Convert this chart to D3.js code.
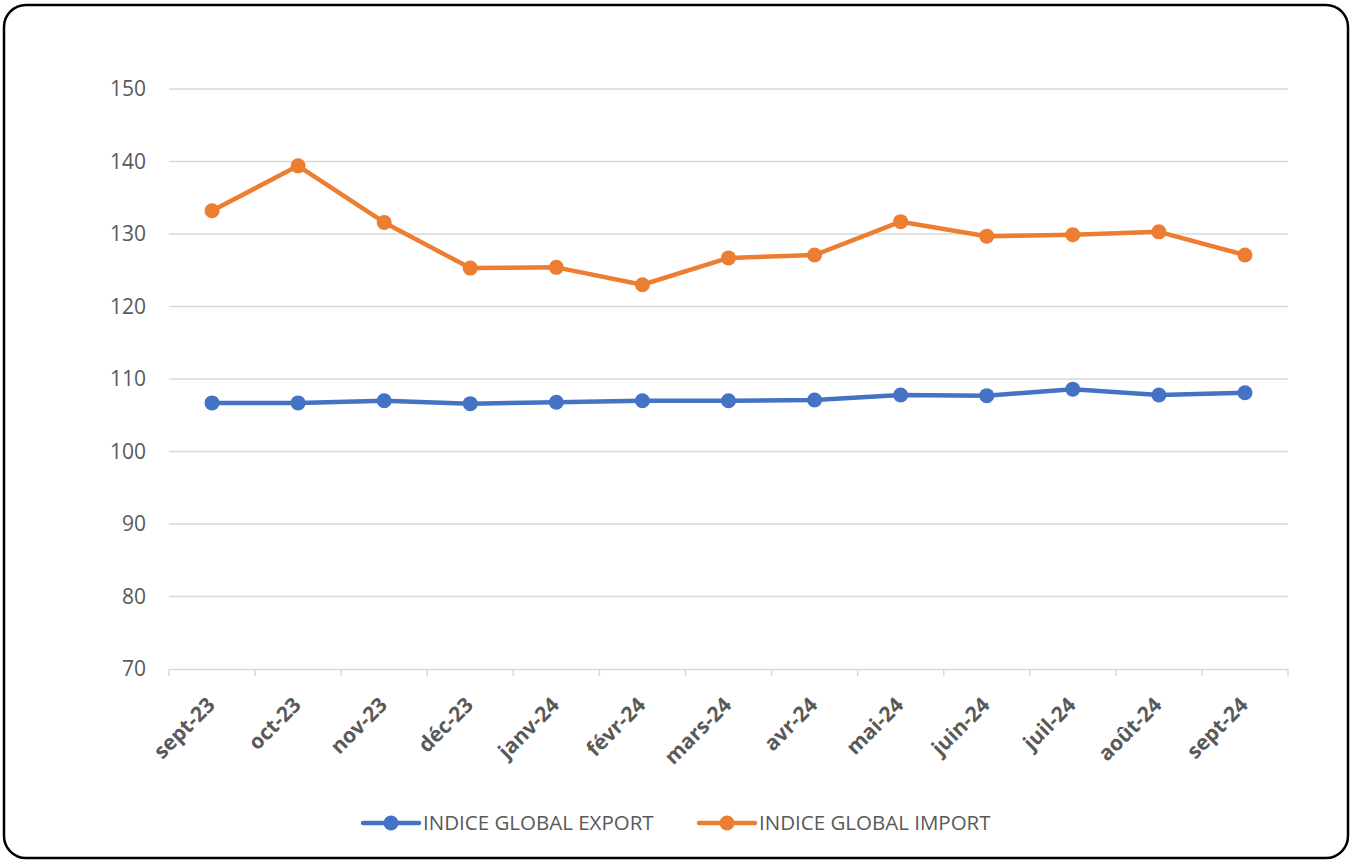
<!DOCTYPE html>
<html>
<head>
<meta charset="utf-8">
<script src="https://cdn.jsdelivr.net/npm/d3@7"></script>
<style>
  body { margin: 0; background: #fff; }
  text { font-family: "Open Sans", sans-serif; }
</style>
</head>
<body>
<div id="chart"></div>
<script>
// data
let months = ["sept-23", "oct-23", "nov-23", "déc-23", "janv-24", "févr-24", "mars-24",
  "avr-24", "mai-24", "juin-24", "juil-24", "août-24", "sept-24"];
let exportIdx = [106.7, 106.7, 107.0, 106.6, 106.8, 107.0, 107.0, 107.1, 107.8, 107.7, 108.6, 107.8, 108.1];
let importIdx = [133.2, 139.4, 131.6, 125.3, 125.4, 123.0, 126.7, 127.1, 131.7, 129.7, 129.9, 130.3, 127.1];
let yTicks = [70, 80, 90, 100, 110, 120, 130, 140, 150];
let seriesNames = ["INDICE GLOBAL EXPORT", "INDICE GLOBAL IMPORT"];
let colors = ["#4472C4", "#ED7D31"];

let width = 1354, height = 861;
let plot = { left: 169, right: 1288, top: 89, bottom: 669 };

let svg = d3.select("#chart").append("svg")
  .attr("width", width)
  .attr("height", height);

// frame
svg.append("rect")
  .attr("x", 4).attr("y", 5)
  .attr("width", width - 10).attr("height", height - 8)
  .attr("rx", 22).attr("ry", 22)
  .attr("fill", "#fff")
  .attr("stroke", "#000")
  .attr("stroke-width", 2.5);

let x = d3.scaleBand()
  .domain(months)
  .range([plot.left, plot.right]);

let y = d3.scaleLinear()
  .domain([70, 150])
  .range([plot.bottom, plot.top]);

// gridlines
svg.append("g")
  .selectAll("line")
  .data(yTicks.filter(d => d > 70))
  .enter()
  .append("line")
  .attr("x1", plot.left).attr("x2", plot.right)
  .attr("y1", d => y(d)).attr("y2", d => y(d))
  .attr("stroke", "#d9d9d9")
  .attr("stroke-width", 1.5);

// y axis labels
let yAxis = svg.append("g")
  .attr("transform", `translate(${plot.left},0)`)
  .call(d3.axisLeft(y).tickValues(yTicks).tickSize(0).tickPadding(23));
yAxis.select(".domain").remove();
yAxis.selectAll("text")
  .style("font-size", "21px")
  .style("font-family", "'Open Sans', sans-serif")
  .attr("fill", "#595959");

// x axis
let xAxis = svg.append("g")
  .attr("transform", `translate(0,${plot.bottom})`)
  .call(d3.axisBottom(x).tickSize(0).tickFormat(""));
xAxis.select(".domain")
  .attr("stroke", "#d9d9d9")
  .attr("stroke-width", 1.5);

let bounds = months.map(m => x(m)).concat([plot.right]);
svg.append("g")
  .selectAll("line")
  .data(bounds)
  .enter()
  .append("line")
  .attr("x1", d => d).attr("x2", d => d)
  .attr("y1", plot.bottom).attr("y2", plot.bottom + 7)
  .attr("stroke", "#d9d9d9")
  .attr("stroke-width", 1.5);

svg.append("g")
  .selectAll("text")
  .data(months)
  .enter()
  .append("text")
  .attr("transform", d => `translate(${x(d) + x.bandwidth() / 2 - 1},${plot.bottom + 32}) rotate(-45)`)
  .attr("text-anchor", "end")
  .attr("dy", "0.35em")
  .style("font-size", "21px")
  .style("font-weight", "bold")
  .attr("fill", "#595959")
  .text(d => d);

// lines
let line = d3.line()
  .x((d, i) => x(months[i]) + x.bandwidth() / 2)
  .y(d => y(d));

[exportIdx, importIdx].forEach((series, k) => {
  let g = svg.append("g");
  g.append("path")
    .datum(series)
    .attr("d", line)
    .attr("fill", "none")
    .attr("stroke", colors[k])
    .attr("stroke-width", 4.5)
    .attr("stroke-linejoin", "round");
  g.selectAll("circle")
    .data(series)
    .enter()
    .append("circle")
    .attr("cx", (d, i) => x(months[i]) + x.bandwidth() / 2)
    .attr("cy", d => y(d))
    .attr("r", 7.5)
    .attr("fill", colors[k]);
});

// legend
let legendX = [363, 699];
let legend = svg.append("g")
  .selectAll("g")
  .data(seriesNames)
  .enter()
  .append("g")
  .attr("transform", (d, i) => `translate(${legendX[i]},823)`);

legend.append("line")
  .attr("x1", 0).attr("x2", 56)
  .attr("stroke", (d, i) => colors[i])
  .attr("stroke-width", 4.5)
  .attr("stroke-linecap", "round");
legend.append("circle")
  .attr("cx", 28).attr("r", 7.5)
  .attr("fill", (d, i) => colors[i]);
legend.append("text")
  .attr("x", 60)
  .attr("dy", "0.35em")
  .style("font-size", "20.5px")
  .attr("fill", "#595959")
  .text(d => d);
</script>
</body>
</html>
